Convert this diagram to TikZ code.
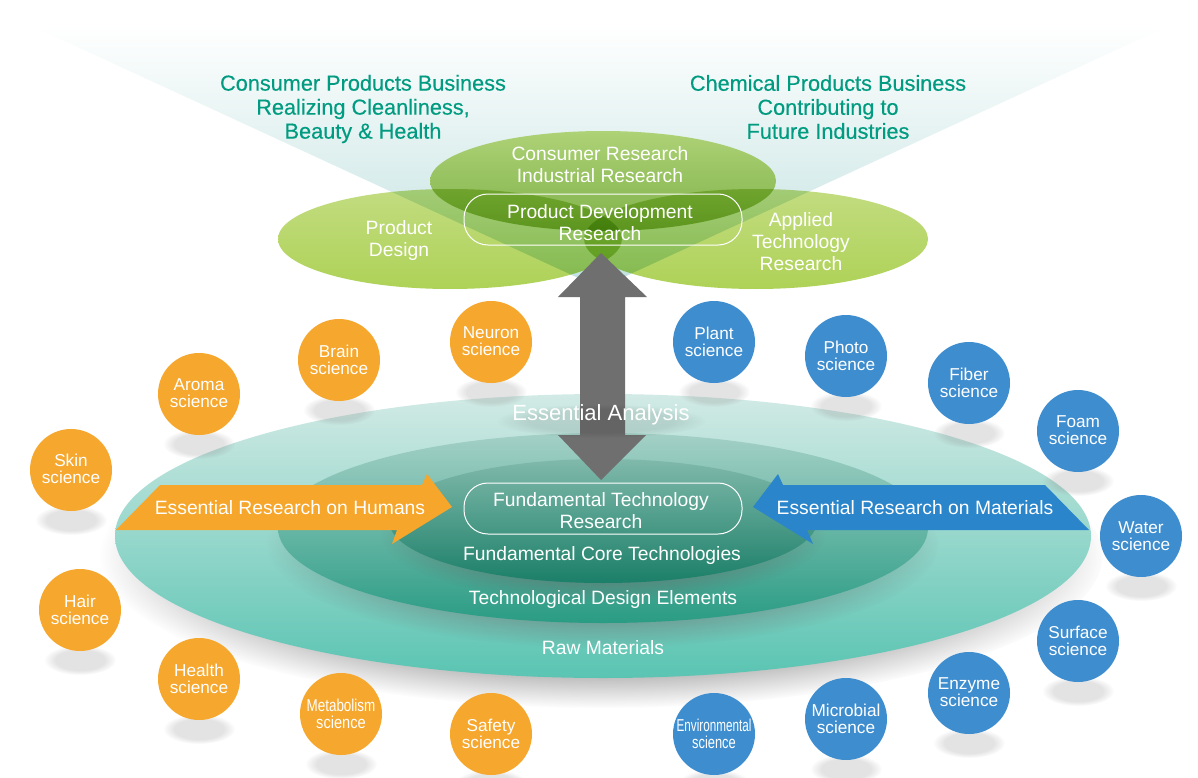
\documentclass[tikz,border=0pt]{standalone}
\usepackage{fontspec}
\usepackage{graphicx}
\setmainfont{Liberation Sans}
\newfontfamily\bizfont[FakeBold=0.35]{Liberation Sans}
\usetikzlibrary{fadings,shapes.geometric}
\pgfdeclareradialshading{softs}{\pgfpointorigin}{color(0bp)=(pgftransparent!0); color(17bp)=(pgftransparent!0); color(25bp)=(pgftransparent!100); color(50bp)=(pgftransparent!100)}
\pgfdeclarefading{softedge}{\pgfuseshading{softs}}
\definecolor{orng}{HTML}{F6A72D}
\definecolor{blu}{HTML}{3E8DCF}
\definecolor{arrorng}{HTML}{F5A62B}
\definecolor{arrblu}{HTML}{2A85CB}
\definecolor{tealtxt}{HTML}{009B80}
\definecolor{arrgray}{HTML}{6F6F6F}
\definecolor{funnelbot}{HTML}{BFE1DF}
\definecolor{c1}{HTML}{C2DD7D}
\definecolor{c2}{HTML}{A0C452}
\definecolor{c3}{HTML}{C2DC80}
\definecolor{c4}{HTML}{AED257}
\definecolor{o1}{HTML}{D2EAE5}
\definecolor{o2}{HTML}{5AC4B2}
\definecolor{m1}{HTML}{A4D0C6}
\definecolor{m2}{HTML}{2A9C84}
\definecolor{i1}{HTML}{80B9AB}
\definecolor{i2}{HTML}{1B7F68}
\tikzset{
  sci/.style={circle,minimum size=82pt,inner sep=0pt,text=white,align=center,font=\fontsize{17.2}{17}\selectfont},
  orangesci/.style={sci,fill=orng},
  bluesci/.style={sci,fill=blu},
  drop/.style={fill=black!45,opacity=.24,path fading=softedge,fit fading=true},
  wlabel/.style={text=white,align=center,inner sep=0pt,yshift=-1pt,font=\fontsize{19.3}{22}\selectfont},
  biz/.style={text=tealtxt,align=center,inner sep=0pt,font=\bizfont\fontsize{21.7}{24}\selectfont},
  pill/.style={draw=white,line width=1pt,rounded corners=24pt,minimum width=278pt,minimum height=51pt,inner sep=0pt},
  petal/.style={blend mode=multiply}
}
\newcommand{\scibubble}[5]{%
  \fill[drop] (#2,#3+50) ellipse [x radius=36,y radius=15];
  \node[#1] (#5) at (#2,#3) {#4};
}
\begin{document}
\begin{tikzpicture}[x=1pt,y=-1pt]
\useasboundingbox (0,0) rectangle (1198,778);
\fill[white] (0,0) rectangle (1198,778);
\clip (0,0) rectangle (1198,778);
% funnel
\shade[top color=white,bottom color=funnelbot] (30,25) -- (1170,25) -- (600,288) -- cycle;
% green petals
\shade[petal,top color=c1,bottom color=c2] (603,181) ellipse [x radius=173,y radius=50];
\shade[petal,top color=c3,bottom color=c4] (450,239) ellipse [x radius=172,y radius=50];
\shade[petal,top color=c3,bottom color=c4] (756,239) ellipse [x radius=172,y radius=50];
% concentric discs
\fill[fill=black!60,opacity=.65,path fading=softedge,fit fading=true] (603,556) ellipse [x radius=502,y radius=152];
\shade[top color=o1,bottom color=o2] (603,536) ellipse [x radius=488,y radius=142];
\fill[fill=black!60,opacity=.5,path fading=softedge,fit fading=true] (603,545) ellipse [x radius=336,y radius=103];
\shade[top color=m1,bottom color=m2] (603,528) ellipse [x radius=325,y radius=95];
\fill[fill=black!60,opacity=.45,path fading=softedge,fit fading=true] (603,536) ellipse [x radius=222,y radius=66];
\shade[top color=i1,bottom color=i2] (603,521) ellipse [x radius=214,y radius=62];
% big double arrow
\fill[arrgray] (601,253) -- (647,297) -- (625,297) -- (625,435) -- (646,435) -- (601,480) -- (558,435) -- (580,435) -- (580,297) -- (558,297) -- cycle;
% side arrows
\fill[arrorng] (116,530) -- (160,485) -- (422,485) -- (427,474) -- (452,507) -- (392,544) -- (397,530) -- cycle;
\fill[arrblu] (1089,530) -- (1045,485) -- (783,485) -- (778,474) -- (753,507) -- (813,544) -- (807,530) -- cycle;
% pills
\node[pill] (pdr) at (603,219.5) {};
\node[pill] (ftr) at (603,508.5) {};
% labels
\node[biz] (cpb) at (363,109) {Consumer Products Business\\Realizing Cleanliness,\\Beauty \& Health};
\node[biz] (chem) at (828,107) {Chemical Products Business\\Contributing to\\Future Industries};
\node[wlabel] (crir) at (600,164) {Consumer Research\\Industrial Research};
\node[wlabel] (pdrt) at (600,222) {Product Development\\Research};
\node[wlabel] (pd) at (399,240) {Product\\Design};
\node[wlabel] (atr) at (801,240.5) {Applied\\Technology\\Research};
\fill[black,opacity=.09,path fading=softedge,fit fading=true] (601,421) ellipse [x radius=105,y radius=17];
\node[wlabel,font=\fontsize{22}{24}\selectfont] (ea) at (601,414) {Essential Analysis};
\node[wlabel] (erh) at (290,507) {Essential Research on Humans};
\node[wlabel] (erm) at (915,507) {Essential Research on Materials};
\node[wlabel] (ftrt) at (601,510) {Fundamental Technology\\Research};
\node[wlabel] (fct) at (602,555) {Fundamental Core Technologies};
\node[wlabel] (tde) at (603,599) {Technological Design Elements};
\node[wlabel] (raw) at (603,647) {Raw Materials};
% bubbles
\scibubble{orangesci}{71}{470}{\raisebox{2pt}{Skin}\\\raisebox{2pt}{science}}{skin}
\scibubble{orangesci}{199}{394}{\raisebox{1pt}{Aroma}\\\raisebox{1pt}{science}}{aroma}
\scibubble{orangesci}{339}{360}{\raisebox{1pt}{Brain}\\\raisebox{1pt}{science}}{brain}
\scibubble{orangesci}{491}{342}{\raisebox{1pt}{Neuron}\\\raisebox{1pt}{science}}{neuron}
\scibubble{orangesci}{80}{610}{Hair\\science}{hair}
\scibubble{orangesci}{199}{679}{\raisebox{1pt}{Health}\\\raisebox{1pt}{science}}{health}
\scibubble{orangesci}{341}{714}{\scalebox{.78}[1]{Metabolism}\\\scalebox{.85}[1]{science}}{metab}
\scibubble{orangesci}{491}{734}{\raisebox{1pt}{Safety}\\\raisebox{1pt}{science}}{safety}
\scibubble{bluesci}{714}{342}{\raisebox{1pt}{Plant}\\\raisebox{1pt}{science}}{plant}
\scibubble{bluesci}{846}{356}{Photo\\science}{photo}
\scibubble{bluesci}{969}{383}{\raisebox{1pt}{Fiber}\\\raisebox{1pt}{science}}{fiber}
\scibubble{bluesci}{1078}{431}{\raisebox{1pt}{Foam}\\\raisebox{1pt}{science}}{foam}
\scibubble{bluesci}{1141}{536}{Water\\science}{water}
\scibubble{bluesci}{1078}{641}{\raisebox{1pt}{Surface}\\\raisebox{1pt}{science}}{surface}
\scibubble{bluesci}{969}{693}{\raisebox{1pt}{Enzyme}\\\raisebox{1pt}{science}}{enzyme}
\scibubble{bluesci}{846}{719}{\raisebox{1pt}{Microbial}\\\raisebox{1pt}{science}}{microbial}
\scibubble{bluesci}{714}{734}{\scalebox{.68}[1]{Environmental}\\\scalebox{.75}[1]{science}}{envir}
\end{tikzpicture}
\end{document}
